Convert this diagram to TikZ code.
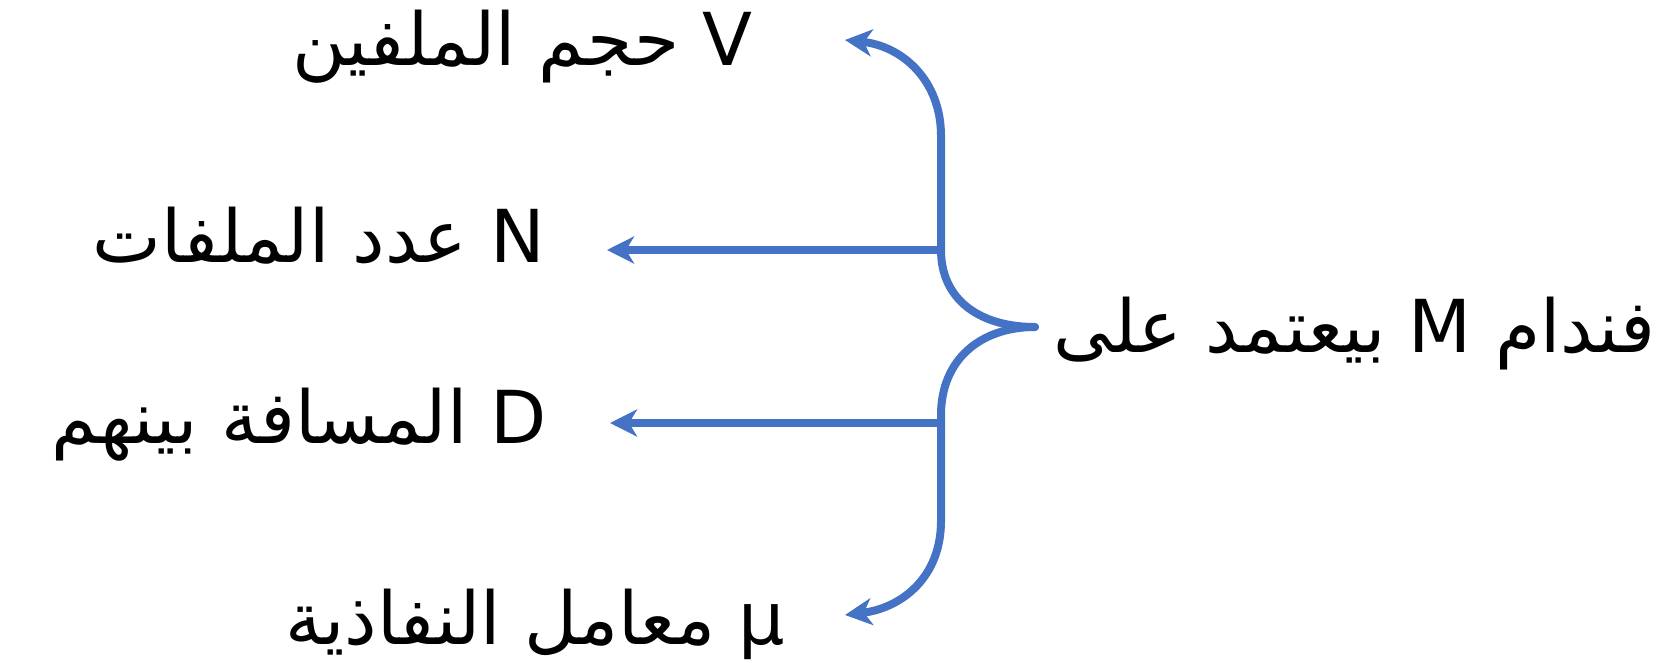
\documentclass[tikz,border=0pt]{standalone}
\usepackage{fontspec}
\usetikzlibrary{arrows.meta}
\TeXXeTstate=1
\newfontfamily\arabicfont[Script=Arabic]{DejaVu Sans}
\definecolor{braceblue}{HTML}{4472C4}
\tikzset{
  termtext/.style={anchor=base east, inner sep=0pt, font=\arabicfont\fontsize{73}{82}\selectfont, text=black},
  link/.style={draw=braceblue, line width=8pt, line cap=round, line join=round},
  tipped/.style={link, line cap=butt, -{Stealth[length=27pt, width=27pt, inset=8pt]}}
}
\begin{document}
\begin{tikzpicture}[x=1pt, y=-1pt]
\useasboundingbox (0,0) rectangle (1675,663);

% labels
\node[termtext] (vol) at (753,66) {\beginR V حجم الملفين\endR};
\node[termtext] (num) at (545,262) {\beginR N عدد الملفات\endR};
\node[termtext] (src) at (1656,352) {\beginR فندام M بيعتمد على\endR};
\node[termtext] (dist) at (547,443) {\beginR D المسافة بينهم\endR};
\node[termtext] (perm) at (785,644) {\beginR μ معامل النفاذية\endR};

% brace points
\coordinate (tip) at (1035,327);
\coordinate (upj) at (941,250);
\coordinate (loj) at (941,423);
\coordinate (topend) at (845,40);
\coordinate (botend) at (845,615);
\coordinate (numend) at (607,250);
\coordinate (distend) at (610,423);

% brace body
\draw[link] (tip) .. controls (980,327) and (941,300) .. (941,250)
  -- (941,135);
\draw[link] (tip) .. controls (980,327) and (941,360) .. (941,415)
  -- (941,522);
% curved ends
\draw[tipped] (941,136) .. controls (941,80) and (902,46) .. (topend);
\draw[tipped] (941,521) .. controls (941,577) and (902,608) .. (botend);
% straight arrows
\draw[tipped] (upj) -- (numend);
\draw[tipped] (loj) -- (distend);
\end{tikzpicture}
\end{document}
